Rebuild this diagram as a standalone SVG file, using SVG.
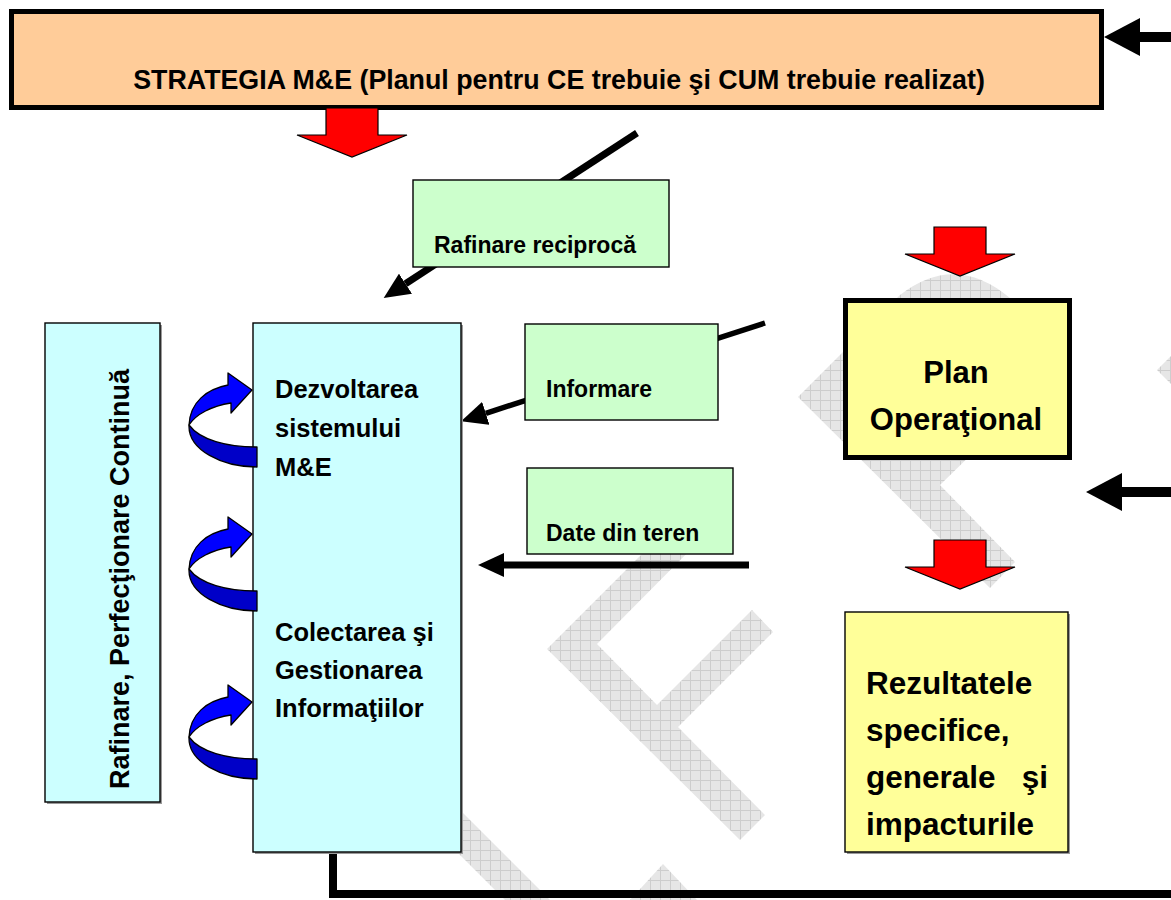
<svg xmlns="http://www.w3.org/2000/svg" width="1171" height="900" viewBox="0 0 1171 900">
  <defs>
    <!-- fine mesh used by the background emblem -->
    <pattern id="mesh" width="10" height="10" patternUnits="userSpaceOnUse">
      <rect width="10" height="10" fill="#e6e6e6"/>
      <path d="M0 0.5H10M0.5 0V10" stroke="#cdcdcd" stroke-width="1"/>
    </pattern>
    <!-- arrowheads: base sits on the line end, tip points forward -->
    <marker id="headBig" viewBox="0 0 36 38" markerWidth="36" markerHeight="38" refX="0" refY="19" orient="auto" markerUnits="userSpaceOnUse">
      <path d="M0,0 L36,19 L0,38 Z" fill="#000"/>
    </marker>
    <marker id="headSmall" viewBox="0 0 26 24" markerWidth="26" markerHeight="24" refX="0" refY="12" orient="auto" markerUnits="userSpaceOnUse">
      <path d="M0,0 L26,12 L0,24 Z" fill="#000"/>
    </marker>
    <!-- red block arrow pointing down, origin at the top centre of the shaft -->
    <path id="blockDown" d="M-26,0 H26 V27 H55 L0,49 L-55,27 H-26 Z"/>
    <!-- blue curled arrow, origin at its tip -->
    <g id="curl">
      <path d="M-63,35 C-64,60 -30,77 5,77 L5,57 C-25,57 -52,50 -63,35 Z" fill="#0000c8" stroke="#000" stroke-width="1.3" stroke-linejoin="round"/>
      <path d="M-63,35 C-62,12 -45,-1 -24,-5 L-24,-17 L0,0 L-21,23 L-21,13 C-40,16 -56,24 -63,35 Z" fill="#0000ff" stroke="#000" stroke-width="1.3" stroke-linejoin="round"/>
    </g>
  </defs>
  <style>
    text { font-family: "Liberation Sans", Arial, Helvetica, sans-serif; font-weight: bold; fill: #000; }
    .shadow { fill: #9a9a9a; }
    .thin { stroke: #000; stroke-width: 1.4; }
    .green { fill: #ccffcc; }
    .cyan { fill: #ccffff; }
    .yellow { fill: #ffff99; }
    .red { fill: #ff0000; stroke: #000; stroke-width: 1.2; stroke-linejoin: miter; }
    .wire { fill: none; stroke: #000; }
    .emblem { fill: url(#mesh); }
  </style>

  <rect width="1171" height="900" fill="#fff"/>

  <!-- background emblem -->
  <g id="emblem">
    <path class="emblem" d="M798,397 L900,295 Q955,252 1010,298 L1070,358 L940,485 L1015,562 L990,588 Z"/>
    <path class="emblem" d="M1157,370 L1180,347 L1180,393 Z"/>
    <path class="emblem" d="M664,532 L710,530 L597,644 L657,705 L752,610 L773,632 L678,727 L765,815 L740,840 L547,649 Z"/>
    <path class="emblem" d="M630,900 L663,864 L697,900 Z"/>
    <path class="emblem" d="M405,800 L450,800 L550,900 L505,900 Z"/>
  </g>

  <!-- connectors -->
  <g id="connectors">
    <path class="wire" d="M333,852 V894 H1180" stroke-width="8"/>
    <path class="wire" d="M1180,37 H1140" stroke-width="10" marker-end="url(#headBig)"/>
    <path class="wire" d="M1180,492 H1122" stroke-width="10" marker-end="url(#headBig)"/>
    <path class="wire" d="M637,133 L405.5,283.7" stroke-width="7" marker-end="url(#headSmall)"/>
    <path class="wire" d="M765,323 L485.8,413.3" stroke-width="5.5" marker-end="url(#headSmall)"/>
    <path class="wire" d="M749,565 H504" stroke-width="7" marker-end="url(#headSmall)"/>
  </g>

  <!-- strategy banner -->
  <g id="strategy">
    <rect x="11.5" y="11.5" width="1090" height="96" fill="#ffcc99" stroke="#000" stroke-width="5"/>
    <text x="559" y="89" font-size="26.8" text-anchor="middle">STRATEGIA M&amp;E (Planul pentru CE trebuie şi CUM trebuie realizat)</text>
  </g>

  <!-- red flow arrows -->
  <g id="flow-arrows">
    <use href="#blockDown" class="red" transform="translate(352,108)"/>
    <use href="#blockDown" class="red" transform="translate(960,227)"/>
    <use href="#blockDown" class="red" transform="translate(960,540)"/>
  </g>

  <!-- continuous refinement column -->
  <g id="refinement">
    <rect x="47" y="325" width="115" height="479" class="shadow"/>
    <rect x="45" y="323" width="115" height="479" class="cyan thin"/>
    <text transform="translate(129,579) rotate(-90)" font-size="27" text-anchor="middle">Rafinare, Perfecţionare Continuă</text>
  </g>

  <!-- M&E system column -->
  <g id="me-system">
    <rect x="255" y="325" width="208" height="529" class="shadow"/>
    <rect x="253" y="323" width="208" height="529" class="cyan thin"/>
    <text x="275" y="398" font-size="25.5">Dezvoltarea</text>
    <text x="275" y="437" font-size="25.5">sistemului</text>
    <text x="275" y="476" font-size="25.5">M&amp;E</text>
    <text x="275" y="641" font-size="25.5">Colectarea şi</text>
    <text x="275" y="679" font-size="25.5">Gestionarea</text>
    <text x="275" y="717" font-size="25.5">Informaţiilor</text>
  </g>

  <!-- self-improvement loops -->
  <g id="loops">
    <use href="#curl" transform="translate(252,390)"/>
    <use href="#curl" transform="translate(252,534)"/>
    <use href="#curl" transform="translate(252,702)"/>
  </g>

  <!-- labelled feedback boxes -->
  <g id="mutual-refinement">
    <rect x="413" y="180" width="256" height="87" class="green thin"/>
    <text x="434" y="253" font-size="23">Rafinare reciprocă</text>
  </g>
  <g id="information">
    <rect x="525" y="324" width="193" height="96" class="green thin"/>
    <text x="546" y="397" font-size="23">Informare</text>
  </g>
  <g id="field-data">
    <rect x="527" y="468" width="206" height="86" class="green thin"/>
    <text x="546" y="541" font-size="23">Date din teren</text>
  </g>

  <!-- operational plan -->
  <g id="operational-plan">
    <rect x="845.5" y="300.5" width="224" height="157" class="yellow" stroke="#000" stroke-width="5"/>
    <text x="956" y="383" font-size="31" text-anchor="middle">Plan</text>
    <text x="956" y="430" font-size="31" text-anchor="middle">Operaţional</text>
  </g>

  <!-- results and impacts -->
  <g id="results">
    <rect x="847" y="614" width="223" height="240" class="shadow"/>
    <rect x="845" y="612" width="223" height="240" class="yellow thin"/>
    <text x="866" y="694" font-size="31.5">Rezultatele</text>
    <text x="866" y="741" font-size="31.5">specifice,</text>
    <text x="866" y="788" font-size="31.5">generale</text>
    <text x="1048" y="788" font-size="31.5" text-anchor="end">şi</text>
    <text x="866" y="835" font-size="31.5">impacturile</text>
  </g>
</svg>
